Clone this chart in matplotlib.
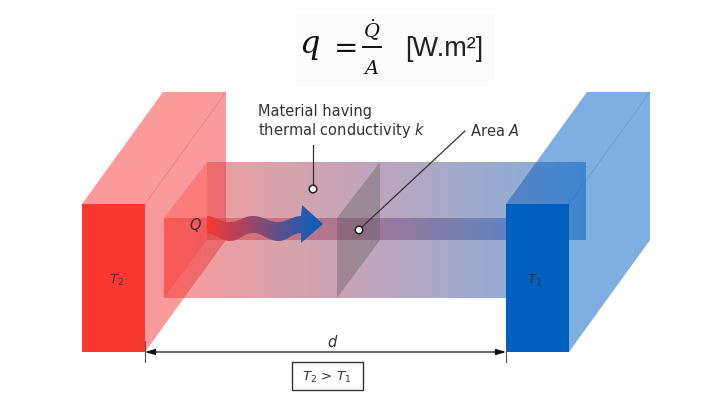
"""
Heat conduction through a slab between a hot and a cold plate.
Everything is laid out in image pixels (721x414, y pointing down).
"""

import matplotlib
matplotlib.use("Agg")
import matplotlib.pyplot as plt
import numpy as np
from matplotlib.colors import to_rgb
from matplotlib.patches import Circle, PathPatch, Polygon, Rectangle
from matplotlib.path import Path

W, H = 721, 414

HOT = "#f93832"
COLD = "#0060c0"
HOT_SIDE = "#fa9a9a"
COLD_SIDE = "#7faee0"
INK = "#333333"

# plates: front face left edge, width, top, bottom, and depth offset
plate_left = [82, 506]
plate_width = 63
plate_top = 205
plate_bottom = 353
depth_dx = 81
depth_dy = 112

# material block
front_box = [164, 545, 219, 299]  # x0, x1, y0, y1
back_box = [207, 586, 163, 241]
section_x = [337, 380]

# wave arrow outline as cubic bezier control points
wave_upper = [(207, 217), (215, 217), (220, 223), (230, 223), (240, 223), (243, 217), (253, 217),
              (263, 217), (268, 223), (278, 223), (288, 223), (292, 217), (301, 217)]
wave_lower = [(301, 234), (292, 234), (288, 242), (278, 242), (268, 242), (263, 234), (253, 234),
              (243, 234), (240, 242), (230, 242), (220, 242), (215, 234), (207, 234)]
arrow_head = [(302, 206), (323, 225), (301, 244)]

plate_labels = [r"$T_{\mathit{2}}$", r"$T_{\mathit{1}}$"]
plate_label_x = [117, 535]
material_label = "Material having\nthermal conductivity $k$"
area_label = "Area $A$"
temp_label = r"$T_{\mathit{2}}$ > $T_{\mathit{1}}$"
unit_label = "[W.m²]"


def gradient_rgba(alpha):
    # horizontal red to blue ramp, one row is enough for imshow
    t = np.linspace(0, 1, 256)[None, :, None]
    c0, c1 = np.array(to_rgb(HOT)), np.array(to_rgb(COLD))
    rgb = (1 - t) * c0 + t * c1
    a = np.full((1, 256, 1), alpha)
    return np.concatenate([rgb, a], axis=2)


def gradient_fill(ax, patch, x0, x1, y0, y1, alpha, zorder):
    im = ax.imshow(gradient_rgba(alpha), extent=[x0, x1, y1, y0], aspect="auto",
                   interpolation="bilinear", zorder=zorder)
    patch.set_transform(ax.transData)
    im.set_clip_path(patch)


fig = plt.figure(figsize=(W / 100, H / 100), dpi=100)
ax = fig.add_axes([0, 0, 1, 1])
ax.axis("off")

# formula, on its faint background
ax.add_patch(Rectangle((295, 15), 200, 73, fc="#fcfcfc", ec="none", zorder=0))
eq = dict(color="#111111", ha="center", va="center", math_fontfamily="dejavuserif", zorder=10)
ax.text(310, 47, "$q$", fontsize=23, **eq)
ax.text(342, 47, "$=$", fontsize=21, **eq)
ax.text(372, 30, r"$\dot{Q}$", fontsize=14, **eq)
ax.text(371, 69, "$A$", fontsize=14, **eq)
ax.plot([363, 381], [47.5, 47.5], color="#111111", lw=1.4, zorder=10)
ax.text(444, 49, unit_label, fontsize=19.5, family="Liberation Sans", color="#222222",
        ha="center", va="center", zorder=10)

# plate sides and tops
for x, side, line in zip(plate_left, [HOT_SIDE, COLD_SIDE], ["#f88080", "#6a9fd8"]):
    xr = x + plate_width
    ax.add_patch(Polygon([(x, plate_top), (x + depth_dx, plate_top - depth_dy),
                          (xr + depth_dx, plate_top - depth_dy),
                          (xr + depth_dx, plate_bottom - depth_dy),
                          (xr, plate_bottom), (xr, plate_top)],
                         fc=side, ec="none", zorder=1))
    ax.plot([xr, xr + depth_dx], [plate_top, plate_top - depth_dy], color=line, lw=0.7, zorder=1)

# material: back rectangle, front rectangle, left face
fx0, fx1, fy0, fy1 = front_box
bx0, bx1, by0, by1 = back_box
back = Rectangle((bx0, by0), bx1 - bx0, by1 - by0, fc="none", ec="none", zorder=2)
front = Rectangle((fx0, fy0), fx1 - fx0, fy1 - fy0, fc="none", ec="none", zorder=2)
ax.add_patch(back)
ax.add_patch(front)
gradient_fill(ax, back, fx0, bx1, by0, fy1, 0.5, 2)
gradient_fill(ax, front, fx0, bx1, by0, fy1, 0.5, 2.1)
ax.add_patch(Polygon([(fx0, fy0), (bx0, by0), (bx0, by1), (fx0, fy1)],
                     fc=HOT, alpha=0.3, ec="none", zorder=2.2))

# cross section
sx0, sx1 = section_x
ax.add_patch(Polygon([(sx0, fy0), (sx1, by0), (sx1, by1), (sx0, fy1)],
                     fc="#555555", alpha=0.35, ec="none", zorder=2.3))

# plate fronts
for x, c in zip(plate_left, [HOT, COLD]):
    ax.add_patch(Rectangle((x, plate_top), plate_width, plate_bottom - plate_top,
                           fc=c, ec="none", zorder=3))

# wavy heat arrow
verts = wave_upper + arrow_head + wave_lower + [wave_upper[0]]
codes = ([Path.MOVETO] + [Path.CURVE4] * (len(wave_upper) - 1)
         + [Path.LINETO] * (len(arrow_head) + 1)
         + [Path.CURVE4] * (len(wave_lower) - 1) + [Path.CLOSEPOLY])
wave = PathPatch(Path(verts, codes), fc="none", ec="none", zorder=4)
ax.add_patch(wave)
gradient_fill(ax, wave, 207, 323, 205, 245, 1.0, 4)

# leader lines and markers
ax.plot([313, 313], [146, 186], color=INK, lw=0.9, zorder=5)
ax.plot([465, 362], [132, 228], color=INK, lw=0.9, zorder=5)
for xy in [(313, 190), (359, 231)]:
    ax.add_patch(Circle(xy, 3.8, fc="white", ec="#222222", lw=1.1, zorder=6))

# dimension line
ax.annotate("", xy=(145, 353), xytext=(506, 353), zorder=5,
            arrowprops=dict(arrowstyle="<|-|>,head_length=0.6,head_width=0.18", color="#111111",
                            lw=0.9, shrinkA=0, shrinkB=0))
for x in [145, 506]:
    ax.plot([x, x], [342, 363], color="#555555", lw=0.8, zorder=5)
ax.add_patch(Rectangle((291.5, 362.5), 71, 28.5, fc="white", ec="#333333", lw=1, zorder=5))

# labels
lab = dict(color=INK, family="DejaVu Sans", math_fontfamily="dejavusans", zorder=7)
ax.text(258, 122, material_label, ha="left", va="center", linespacing=1.08, fontsize=10.5, **lab)
ax.text(470, 131, area_label, ha="left", va="center", fontsize=10.5, **lab)
ax.text(195, 225, "$Q$", ha="center", va="center", fontsize=10.5, **lab)
ax.text(333, 342, "$d$", ha="center", va="center", fontsize=10.5, **lab)
ax.text(327, 377, temp_label, ha="center", va="center", fontsize=9.6, **lab)
for x, s in zip(plate_label_x, plate_labels):
    ax.text(x, 280, s, ha="center", va="center", fontsize=9.6, **lab)

ax.set_xlim(0, W)
ax.set_ylim(H, 0)
fig.savefig("out.png", dpi=100, facecolor="white")
